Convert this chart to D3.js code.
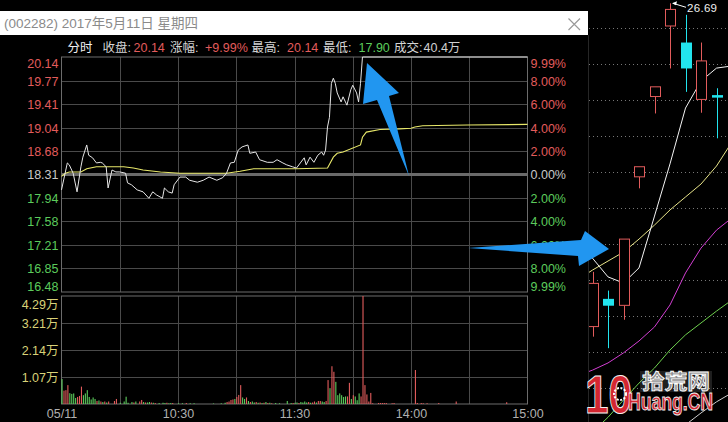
<!DOCTYPE html>
<html><head><meta charset="utf-8">
<script src="https://cdn.jsdelivr.net/npm/d3@7/dist/d3.min.js"></script>
<style>
html,body{margin:0;padding:0;background:#000;overflow:hidden;}
svg{display:block;}
text{font-family:"Liberation Sans",Arial,"Noto Sans CJK SC",sans-serif;}
</style></head><body>
<svg id="c" width="728" height="422"></svg>
<script>
// ---------------- data ----------------
const titleText = "(002282) 2017年5月11日 星期四";
const prevClose = 18.31;
const priceTicks = [20.14,19.77,19.41,19.04,18.68,18.31,17.94,17.58,17.21,16.85,16.48];
const pctTicks = ["9.99%","8.00%","6.00%","4.00%","2.00%","0.00%","2.00%","4.00%","6.00%","8.00%","9.99%"];
const volTicks = [1.07,2.14,3.21,4.29];
const timeTickMin = [0,60,120,180,240];
const timeTicks = ["05/11","10:30","11:30","14:00","15:00"];
const gridMin = [30,60,90,120,150,180,210];

const headerLabels = ["分时","收盘:","涨幅:","最高:","最低:","成交:"];
const headerValues = ["","20.14","+9.99%","20.14","17.90","40.4万"];

const priceMin = [0,3,4,6,8,10,11,13,14,16,18,20,21,23,24,26,28,30,33,34,36,39,42,45,47,49,52,53,55,57,58,61,64,66,70,73,76,80,83,85,87,89,91,93,96,97,100,102,106,109,111,114,116,119,121,123,125,126,128,130,132,134,135,136,137,138,139,140,141,142,144,145,147,149,150,152,153,154,155,240];
const priceVal = [18.07,18.49,18.46,18.33,18.04,18.43,18.58,18.77,18.61,18.57,18.49,18.50,18.49,18.43,18.10,18.38,18.35,18.35,18.33,18.18,18.15,18.07,18.04,17.94,18.04,17.99,17.94,18.10,18.04,18.02,18.15,18.27,18.27,18.22,18.19,18.22,18.27,18.22,18.26,18.33,18.49,18.50,18.69,18.74,18.77,18.64,18.66,18.54,18.50,18.50,18.54,18.49,18.46,18.43,18.41,18.49,18.57,18.46,18.58,18.50,18.61,18.66,18.61,18.69,19.05,19.20,19.73,19.81,19.73,19.58,19.44,19.52,19.39,19.63,19.70,19.58,19.44,19.73,20.14,20.14];

const avgMin = [0,2,4,10,13,18,23,32,37,42,51,61,71,85,92,99,109,121,137,140,142,145,154,155,157,164,174,180,182,186,209,240];
const avgVal = [18.28,18.33,18.35,18.35,18.40,18.43,18.43,18.43,18.41,18.38,18.35,18.33,18.33,18.33,18.36,18.40,18.40,18.40,18.41,18.58,18.64,18.66,18.77,18.89,18.97,19.01,19.02,19.03,19.05,19.07,19.08,19.09];

const volMin = [0,1,2,3,4,5,6,7,8,9,10,11,12,13,14,15,16,17,18,19,20,21,22,23,24,27,28,30,32,33,34,36,37,38,40,41,42,43,44,45,46,47,48,50,52,53,54,55,56,57,60,62,64,66,68,78,82,84,85,86,87,88,89,90,91,92,93,94,95,96,97,98,99,100,101,102,103,104,105,106,107,108,110,112,116,118,119,120,121,122,123,124,125,126,127,128,129,130,131,132,133,134,135,136,137,138,139,140,141,142,143,144,145,146,147,148,149,150,151,152,153,154,155,156,157,158,159,160,163,164,165,166,167,170,171,182,183,185,186,188,194,203,229];
const volVal = [0.99,0.53,0.55,0.75,0.43,0.40,0.42,0.24,0.28,0.32,0.69,0.35,0.42,0.55,0.28,0.18,0.26,0.20,0.12,0.14,0.10,0.08,0.10,0.06,0.10,0.12,0.20,0.05,0.10,0.29,0.05,0.08,0.06,0.10,0.10,0.16,0.08,0.06,0.06,0.08,0.06,0.05,0.04,0.04,0.05,0.04,0.05,0.03,0.04,0.04,0.03,0.03,0.04,0.03,0.03,0.02,0.03,0.05,0.08,0.10,0.16,0.18,0.20,0.28,0.36,0.75,0.26,0.20,0.26,0.12,0.08,0.10,0.06,0.08,0.05,0.06,0.04,0.05,0.08,0.04,0.05,0.03,0.04,0.03,0.12,0.04,0.04,0.05,0.06,0.04,0.08,0.06,0.10,0.06,0.08,0.05,0.06,0.10,0.06,0.12,0.12,0.10,0.08,0.12,0.95,0.63,1.50,1.28,0.88,0.35,0.42,0.35,0.28,0.30,0.30,0.84,0.20,0.35,0.30,0.15,0.42,0.30,4.29,0.75,0.38,0.10,0.44,0.03,0.04,0.04,0.04,0.04,0.04,0.03,0.04,1.35,0.04,0.04,0.03,0.03,0.04,0.10,0.07];
const volUp  = [0,1,1,1,0,0,0,0,1,1,1,0,0,0,0,0,0,0,1,0,1,0,1,0,1,1,1,0,0,0,0,0,1,0,1,1,0,1,0,0,1,0,1,0,0,0,1,0,0,1,0,0,1,0,0,0,0,0,1,1,1,1,0,1,1,1,0,0,1,0,1,0,0,1,0,1,0,1,0,1,0,1,0,0,0,0,1,0,0,1,0,0,0,0,1,0,1,1,0,1,1,0,0,1,1,0,1,1,0,0,0,0,0,0,1,1,0,1,0,0,0,1,1,1,1,1,1,1,1,1,1,1,1,1,1,1,1,1,1,1,1,1,1];

// daily candles (right panel)
const candleOpen  = [17.71,18.48,18.30,21.87,24.10,26.06,25.60,24.02,24.14];
const candleClose = [18.91,18.29,20.14,22.15,24.37,26.52,24.88,25.09,24.07];
const candleHigh  = [19.23,18.71,20.14,22.15,24.37,26.69,26.37,25.60,24.33];
const candleLow   = [17.43,17.11,17.90,21.55,23.63,24.88,24.23,23.65,22.94];
const maIndex = [-1,0,1,2,3,4,5,6,7,8,9];
const ma5  = [20.00,19.61,19.09,18.92,19.34,20.78,22.23,23.78,24.53,24.89,24.95];
const ma10 = [19.00,19.28,19.53,19.78,20.14,20.53,20.95,21.31,21.67,22.17,22.84];
const ma20 = [16.34,16.50,16.70,16.98,17.31,17.70,18.31,19.20,19.89,20.39,20.73];
const ma60 = [14.40,14.78,15.19,15.67,16.14,16.56,17.06,17.48,17.81,18.14,18.45];
const ma120= [13.20,13.50,13.80,14.10,14.30,14.50,14.65,14.98,15.31,15.62,15.87];
const dayGrid = [16,17,18,19,20,21,22,23,24,25,26];
const maxLabel = "26.69";

// ---------------- colors ----------------
const RED="#e25c5c", GREEN="#5ccb5c", GRID="#4a4a4a", BORDER="#6c6c6c";
const svg = d3.select("#c");
svg.append("rect").attr("width",728).attr("height",422).attr("fill","#000");

// ---------------- scales ----------------
const x = d3.scaleLinear().domain([0,240]).range([61.5,527.5]);
const y = d3.scaleLinear().domain([16.48,20.14]).range([292,57]);
const yv = d3.scaleLinear().domain([0,4.29]).range([404,296]);

// ---------------- grid ----------------
const g = svg.append("g");
g.selectAll(".hg").data(priceTicks.filter(p=>p!==20.14&&p!==16.48&&p!==prevClose)).join("line")
  .attr("x1",x(0)).attr("x2",x(240)).attr("y1",d=>Math.round(y(d))+0.5).attr("y2",d=>Math.round(y(d))+0.5)
  .attr("stroke",GRID);
g.selectAll(".vg").data(gridMin).join("line")
  .attr("x1",d=>Math.round(x(d))+0.5).attr("x2",d=>Math.round(x(d))+0.5).attr("y1",y(20.14)).attr("y2",y(16.48))
  .attr("stroke",GRID);
g.selectAll(".vhg").data(volTicks.filter(v=>v<4.29)).join("line")
  .attr("x1",x(0)).attr("x2",x(240)).attr("y1",d=>Math.round(yv(d))+0.5).attr("y2",d=>Math.round(yv(d))+0.5)
  .attr("stroke",GRID);
g.selectAll(".vvg").data(gridMin).join("line")
  .attr("x1",d=>Math.round(x(d))+0.5).attr("x2",d=>Math.round(x(d))+0.5).attr("y1",yv(4.29)).attr("y2",yv(0))
  .attr("stroke",GRID);
// zero line
g.append("line").attr("x1",x(0)).attr("x2",x(240)).attr("y1",y(prevClose)).attr("y2",y(prevClose))
  .attr("stroke","#6a6a6a").attr("stroke-width",3);
// borders
g.append("rect").attr("x",x(0)).attr("y",y(20.14)).attr("width",x(240)-x(0)).attr("height",y(16.48)-y(20.14))
  .attr("fill","none").attr("stroke",BORDER);
g.append("rect").attr("x",x(0)).attr("y",yv(4.29)).attr("width",x(240)-x(0)).attr("height",yv(0)-yv(4.29))
  .attr("fill","none").attr("stroke",BORDER);

// ---------------- lines ----------------
const line = d3.line().x(d=>x(d[0])).y(d=>y(d[1]));
svg.append("path").datum(avgMin.map((m,i)=>[m,avgVal[i]])).attr("d",line)
  .attr("fill","none").attr("stroke","#e8e86a").attr("stroke-width",1.1);
svg.append("path").datum(priceMin.map((m,i)=>[m,priceVal[i]])).attr("d",line)
  .attr("fill","none").attr("stroke","#e6e6e6").attr("stroke-width",1);

// ---------------- volume ----------------
svg.append("g").selectAll("rect").data(volMin.map((m,i)=>({m,v:volVal[i],u:volUp[i]}))).join("rect")
  .attr("x",d=>x(d.m)).attr("width",1.1)
  .attr("y",d=>yv(d.v)).attr("height",d=>yv(0)-yv(d.v))
  .attr("fill",d=>d.u?RED:GREEN);

// ---------------- axes ----------------
function styleAxis(sel){ sel.select(".domain").remove(); sel.selectAll(".tick line").remove();
  sel.selectAll("text").attr("font-size",12.5).attr("font-family",'"Liberation Sans",Arial,"Noto Sans CJK SC",sans-serif'); }
const colorFor = d => d>prevClose?RED:(d<prevClose?GREEN:"#c8c8c8");
const la = svg.append("g").attr("transform",`translate(${x(0)-1},0)`)
  .call(d3.axisLeft(y).tickValues(priceTicks).tickFormat(d3.format(".2f")).tickSize(0).tickPadding(2));
styleAxis(la);
la.selectAll(".tick text").attr("fill",d=>colorFor(d)).attr("dy",d=>d===20.14?"0.85em":(d===16.48?"-0.15em":"0.35em"));
const ra = svg.append("g").attr("transform",`translate(${x(240)+1},0)`)
  .call(d3.axisRight(y).tickValues(priceTicks).tickFormat((d,i)=>pctTicks[i]).tickSize(0).tickPadding(2));
styleAxis(ra);
ra.selectAll(".tick text").attr("fill",d=>colorFor(d)).attr("dy",d=>d===20.14?"0.85em":(d===16.48?"-0.15em":"0.35em"));
const va = svg.append("g").attr("transform",`translate(${x(0)-1},0)`)
  .call(d3.axisLeft(yv).tickValues(volTicks).tickFormat(d=>d.toFixed(2)+"万").tickSize(0).tickPadding(2));
styleAxis(va);
va.selectAll(".tick text").attr("fill","#d9d278").attr("dy",d=>d===4.29?"1.0em":"0.35em");
const ba = svg.append("g").attr("transform",`translate(0,${yv(0)})`)
  .call(d3.axisBottom(x).tickValues(timeTickMin).tickFormat((d,i)=>timeTicks[i]).tickSize(0).tickPadding(5));
styleAxis(ba);
ba.selectAll(".tick text").attr("fill","#b0b0b0");

// ---------------- title bar & header ----------------
svg.append("rect").attr("x",0).attr("y",11).attr("width",588).attr("height",24).attr("fill","#fff");
svg.append("text").attr("x",4).attr("y",28).attr("fill","#8a8a8a").attr("font-size",13.5).text(titleText);
svg.append("path").attr("d","M568.5,18.5L580,30M580,18.5L568.5,30").attr("stroke","#9a9a9a").attr("stroke-width",1.2);

const hx = [67.5,102.5,170,251.5,323,394];
const hvx = [0,133.5,205,287,358.5,423.5];
const hvCol = ["", RED, RED, RED, GREEN, "#d0d0d0"];
headerLabels.forEach((t,i)=>{
  svg.append("text").attr("x",hx[i]).attr("y",52).attr("font-size",12.5).attr("fill",i===0?"#f0f0f0":"#d4d4d4").text(t);
  if(headerValues[i]) svg.append("text").attr("x",hvx[i]).attr("y",52).attr("font-size",12.5).attr("fill",hvCol[i]).text(headerValues[i]);
});

// ---------------- right daily candle panel ----------------
const rp = svg.append("g");
rp.append("defs").append("clipPath").attr("id","rclip").append("rect").attr("x",589).attr("y",0).attr("width",139).attr("height",422);
const rc = rp.append("g").attr("clip-path","url(#rclip)");
const cx = d3.scaleLinear().domain([0,8]).range([592.5,716.5]);
const cy = d3.scaleLinear().domain([26.69,15]).range([3.3,3.3+11.69*36]);
rc.selectAll(".dg").data(dayGrid).join("line")
  .attr("x1",589).attr("x2",728).attr("y1",d=>Math.round(cy(d))+0.5).attr("y2",d=>Math.round(cy(d))+0.5)
  .attr("stroke","#777").attr("stroke-dasharray","1,3");
const maLine = arr => d3.line().x((d,i)=>cx(maIndex[i])).y(d=>cy(d))(arr);
[[ma120,"#cfcfcf"],[ma60,"#6fd24f"],[ma20,"#d23ed2"],[ma10,"#e8e48a"],[ma5,"#f4f4f4"]].forEach(([a,c])=>{
  rc.append("path").attr("d",maLine(a)).attr("fill","none").attr("stroke",c).attr("stroke-width",1);
});
const candles = candleOpen.map((o,i)=>({i,o,c:candleClose[i],h:candleHigh[i],l:candleLow[i]}));
candles.forEach(d=>{
  const X = Math.round(cx(d.i))+0.5, up = d.c>=d.o;
  const top = cy(Math.max(d.o,d.c)), bot = cy(Math.min(d.o,d.c));
  if(up){
    rc.append("line").attr("x1",X).attr("x2",X).attr("y1",cy(d.h)).attr("y2",top).attr("stroke",RED);
    rc.append("line").attr("x1",X).attr("x2",X).attr("y1",bot).attr("y2",cy(d.l)).attr("stroke",RED);
    rc.append("rect").attr("x",X-5).attr("y",top).attr("width",10).attr("height",Math.max(1,bot-top))
      .attr("fill","#000").attr("stroke",RED);
  } else {
    rc.append("line").attr("x1",X).attr("x2",X).attr("y1",cy(d.h)).attr("y2",cy(d.l)).attr("stroke","#22e4ee");
    rc.append("rect").attr("x",X-5.5).attr("y",top).attr("width",11).attr("height",Math.max(2,bot-top))
      .attr("fill","#22e4ee");
  }
});
// max label
const mi = candleHigh.indexOf(d3.max(candleHigh));
const mxX = cx(mi), mxY = cy(candleHigh[mi]);
rc.append("line").attr("x1",mxX+3).attr("y1",mxY).attr("x2",mxX+16).attr("y2",mxY+4).attr("stroke","#fff");
rc.append("path").attr("d",`M${mxX+2},${mxY} l5,-2 l-1,4 z`).attr("fill","#fff");
rc.append("text").attr("x",mxX+17).attr("y",mxY+9).attr("fill","#f0f0f0").attr("font-size",11.5)
  .attr("font-family","'DejaVu Sans Mono',monospace").attr("textLength",30).text(maxLabel);
svg.append("line").attr("x1",588.5).attr("x2",588.5).attr("y1",35).attr("y2",422).attr("stroke","#262626");

// ---------------- annotation arrows ----------------
const BLUE="#2196f0";
svg.append("path").attr("d","M409,176 L389,96 L399,93 L367,63 L363,104 L377,100 Z").attr("fill",BLUE);
svg.append("path").attr("d","M468,248 L581,240 L585,231 L609,249 L579,266 L578,256 Z").attr("fill",BLUE);

// ---------------- watermark ----------------
const wm = svg.append("g");
wm.append("rect").attr("x",640).attr("y",371).attr("width",72).attr("height",21).attr("fill","#fff").attr("opacity",0.12);
wm.append("text").attr("x",585).attr("y",413).attr("font-size",54).attr("font-weight","bold")
  .attr("textLength",47).attr("lengthAdjust","spacingAndGlyphs")
  .attr("fill","#d42630").attr("stroke","#f2f2f2").attr("stroke-width",1).text("10");
wm.append("circle").attr("cx",620).attr("cy",394).attr("r",6).attr("fill","none").attr("stroke","#fff").attr("stroke-width",2).attr("stroke-dasharray","2,1.5");
wm.append("text").attr("x",642).attr("y",389).attr("font-size",20).attr("font-weight","bold")
  .attr("font-family","'Noto Sans CJK SC',sans-serif").attr("textLength",68).attr("lengthAdjust","spacingAndGlyphs")
  .attr("fill","#8e8e8e").attr("stroke","#fff").attr("stroke-width",0.8).text("拾荒网");
wm.append("text").attr("x",628).attr("y",410).attr("font-size",23).attr("font-weight","bold")
  .attr("textLength",85).attr("lengthAdjust","spacingAndGlyphs")
  .attr("fill","#d42630").attr("stroke","#f2f2f2").attr("stroke-width",0.8).text("Huang.CN");
</script>
</body></html>
